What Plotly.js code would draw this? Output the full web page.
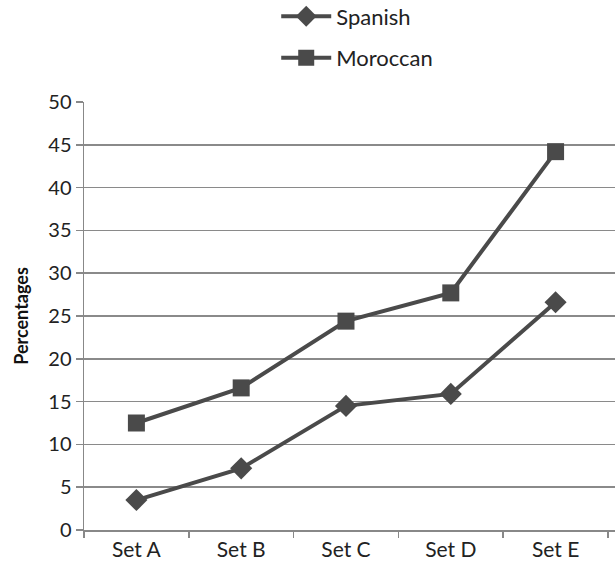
<!DOCTYPE html>
<html>
<head>
<meta charset="utf-8">
<script src="https://cdn.plot.ly/plotly-3.0.1.min.js"></script>
<style>html,body{margin:0;padding:0;background:#fff;}#chart{width:615px;height:574px;}</style>
</head>
<body>
<div id="chart"></div>
<script>
const categories = ["Set A", "Set B", "Set C", "Set D", "Set E"];
const spanish = [3.5, 7.2, 14.5, 15.9, 26.6];
const moroccan = [12.5, 16.6, 24.4, 27.7, 44.2];
const yTicks = [0, 5, 10, 15, 20, 25, 30, 35, 40, 45, 50];

const lineColor = "#4a4a4a";
const font = "Lato, 'Open Sans', sans-serif";

const traces = [
  {
    x: categories, y: spanish, name: "Spanish", type: "scatter", mode: "lines+markers",
    legendgroup: "g1",
    line: {color: lineColor, width: 4},
    marker: {symbol: "diamond", size: 17, color: lineColor}
  },
  {
    x: categories, y: moroccan, name: "Moroccan", type: "scatter", mode: "lines+markers",
    legendgroup: "g2",
    line: {color: lineColor, width: 4},
    marker: {symbol: "square", size: 17, color: lineColor}
  }
];

const layout = {
  width: 615, height: 574,
  margin: {l: 84, r: 0, t: 102, b: 44, autoexpand: false},
  paper_bgcolor: "#fff", plot_bgcolor: "#fff",
  font: {family: font, size: 19, color: "#222"},
  showlegend: true,
  legend: {
    x: 0.362, y: 1.249, xanchor: "left", yanchor: "top",
    orientation: "v", tracegroupgap: 10, itemwidth: 50,
    font: {family: font, size: 22, color: "#222"},
    bgcolor: "rgba(0,0,0,0)"
  },
  xaxis: {
    type: "category",
    range: [-0.5, 4.567],
    showgrid: false,
    showline: true, linecolor: "#888", linewidth: 1.5,
    ticks: "outside", tickson: "boundaries", ticklen: 6, tickcolor: "#888", tickwidth: 1.5,
    tickfont: {family: font, size: 21, color: "#222"},
    zeroline: false, fixedrange: true
  },
  yaxis: {
    range: [0, 50],
    tickvals: yTicks,
    ticktext: yTicks.map(String),
    showgrid: true, gridcolor: "#8a8a8a", gridwidth: 1.5,
    showline: true, linecolor: "#888", linewidth: 1.5,
    ticks: "outside", ticklen: 7, tickcolor: "#888", tickwidth: 1.5,
    tickfont: {family: font, size: 20, color: "#222"},
    zeroline: false,
    title: {text: "<b>Percentages</b>", font: {family: font, size: 18, color: "#111"}, standoff: 15}
  }
};

Plotly.newPlot("chart", traces, layout, {displayModeBar: false, staticPlot: true});
</script>
</body>
</html>
